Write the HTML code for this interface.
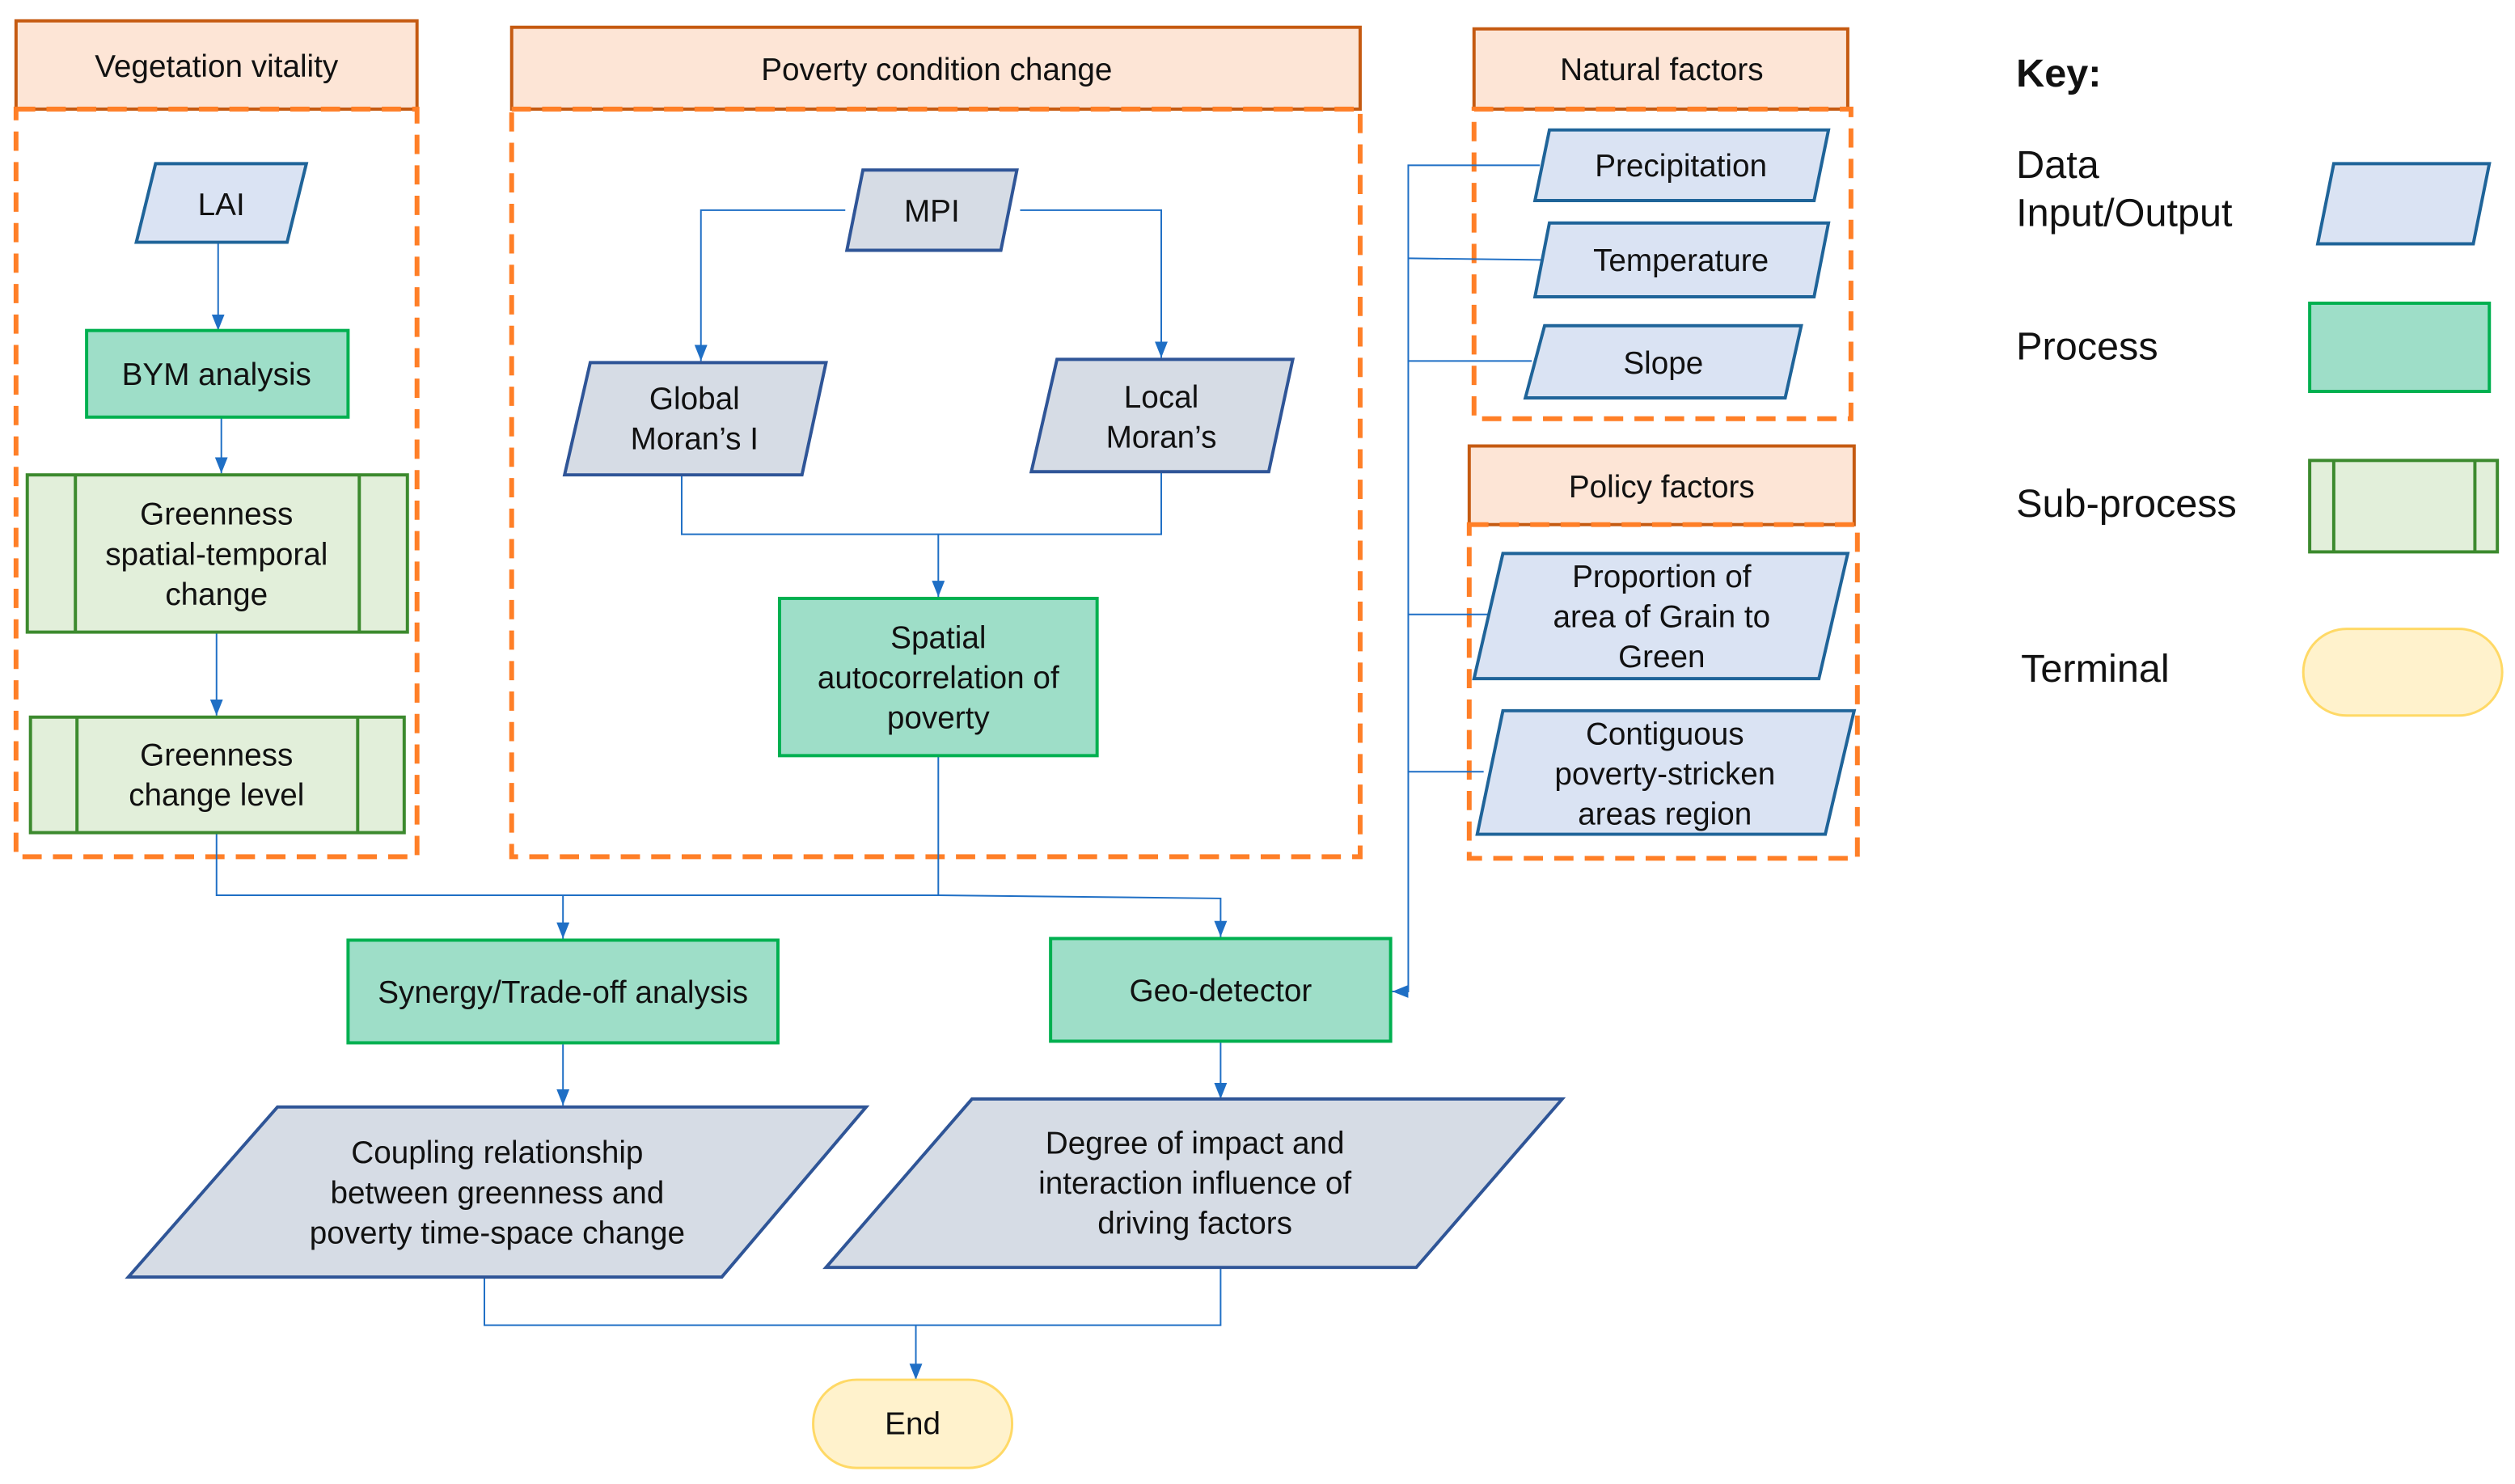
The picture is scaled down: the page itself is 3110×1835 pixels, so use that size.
<!DOCTYPE html>
<html><head><meta charset="utf-8"><style>
html,body{margin:0;padding:0;background:#fff}
svg{display:block}
text{font-family:"Liberation Sans",sans-serif;fill:#111;text-anchor:middle}
</style></head><body>
<svg width="3110" height="1835" viewBox="0 0 1568 925" preserveAspectRatio="none" xmlns="http://www.w3.org/2000/svg">
<defs><marker id="a" markerWidth="10" markerHeight="10" refX="10" refY="4" orient="auto" markerUnits="userSpaceOnUse"><path d="M0,0 L10,4 L0,8 Z" fill="#1f6fc5"/></marker></defs>
<g font-size="19.5">
<g fill="#fde5d6" stroke="#c55a11" stroke-width="2">
<rect x="10" y="13" width="250" height="55"/><rect x="319" y="17" width="529" height="51"/>
<rect x="919" y="18" width="233" height="50"/><rect x="916" y="278" width="240" height="49"/></g>
<g fill="none" stroke="#ff7f27" stroke-width="3" stroke-dasharray="12,7">
<rect x="10" y="68" width="250" height="466"/><rect x="319" y="68" width="529" height="466"/>
<rect x="919" y="68" width="235" height="193"/><rect x="916" y="327" width="242" height="208"/></g>
<text x="135" y="48">Vegetation vitality</text><text x="584" y="50">Poverty condition change</text>
<text x="1036" y="50">Natural factors</text><text x="1036" y="310">Policy factors</text>
<g stroke="#1f6fc5" stroke-width="1" fill="none">
<line x1="136" y1="151" x2="136" y2="206" marker-end="url(#a)"/>
<line x1="138" y1="260" x2="138" y2="295" marker-end="url(#a)"/>
<line x1="135" y1="394" x2="135" y2="446" marker-end="url(#a)"/>
<polyline points="527,131 437,131 437,225" marker-end="url(#a)"/>
<polyline points="636,131 724,131 724,223" marker-end="url(#a)"/>
<polyline points="425,296 425,333 724,333 724,294"/>
<line x1="585" y1="333" x2="585" y2="372" marker-end="url(#a)"/>
<polyline points="135,519 135,558 585,558 585,471"/>
<polyline points="351,558 351,585" marker-end="url(#a)"/>
<polyline points="585,558 761,560 761,584" marker-end="url(#a)"/>
<polyline points="960,103 878,103 878,618 868,618" marker-end="url(#a)"/>
<line x1="878" y1="161" x2="963" y2="162"/><line x1="878" y1="225" x2="955" y2="225"/>
<line x1="878" y1="383" x2="930" y2="383"/><line x1="878" y1="481" x2="925" y2="481"/>
<line x1="351" y1="651" x2="351" y2="689" marker-end="url(#a)"/>
<line x1="761" y1="650" x2="761" y2="685" marker-end="url(#a)"/>
<polyline points="302,796 302,826 761,826 761,790"/>
<line x1="571" y1="826" x2="571" y2="860" marker-end="url(#a)"/>
</g>
<g fill="#dae3f3" stroke="#1f6499" stroke-width="2">
<polygon points="97,102 191,102 179,151 85,151"/>
<polygon points="966,81 1140,81 1131,125 957,125"/>
<polygon points="966,139 1140,139 1131,185 957,185"/>
<polygon points="963,203 1123,203 1113,248 951,248"/>
<polygon points="937,345 1152,345 1134,423 919,423"/>
<polygon points="937,443 1156,443 1138,520 921,520"/>
<polygon points="1455,102 1552,102 1542,152 1445,152"/>
</g>
<g fill="#d6dce5" stroke="#2f5597" stroke-width="2">
<polygon points="538,106 634,106 624,156 528,156"/>
<polygon points="368,226 515,226 500,296 352,296"/>
<polygon points="659,224 806,224 791,294 643,294"/>
<polygon points="173,690 540,690 450,796 80,796"/>
<polygon points="606,685 974,685 883,790 515,790"/>
</g>
<g fill="#9edec8" stroke="#00b050" stroke-width="2">
<rect x="54" y="206" width="163" height="54"/><rect x="486" y="373" width="198" height="98"/>
<rect x="217" y="586" width="268" height="64"/><rect x="655" y="585" width="212" height="64"/>
<rect x="1440" y="189" width="112" height="55"/></g>
<g fill="#e2efda" stroke="#3c8a2e" stroke-width="2">
<rect x="17" y="296" width="237" height="98"/><line x1="47" y1="296" x2="47" y2="394"/><line x1="224" y1="296" x2="224" y2="394"/>
<rect x="19" y="447" width="233" height="72"/><line x1="48" y1="447" x2="48" y2="519"/><line x1="223" y1="447" x2="223" y2="519"/>
<rect x="1440" y="287" width="117" height="57"/><line x1="1455" y1="287" x2="1455" y2="344"/><line x1="1543" y1="287" x2="1543" y2="344"/>
</g>
<g fill="#fff2cc" stroke="#ffd966" stroke-width="1.5">
<rect x="507" y="860" width="124" height="55" rx="27"/><rect x="1436" y="392" width="124" height="54" rx="27"/></g>
<text x="138" y="134">LAI</text><text x="135" y="240">BYM analysis</text>
<text x="135" y="327">Greenness</text><text x="135" y="352">spatial-temporal</text><text x="135" y="377">change</text>
<text x="135" y="477">Greenness</text><text x="135" y="502">change level</text>
<text x="581" y="138">MPI</text>
<text x="433" y="255">Global</text><text x="433" y="280">Moran’s I</text>
<text x="724" y="254">Local</text><text x="724" y="279">Moran’s</text>
<text x="585" y="404">Spatial</text><text x="585" y="429">autocorrelation of</text><text x="585" y="454">poverty</text>
<text x="351" y="625">Synergy/Trade-off analysis</text><text x="761" y="624">Geo-detector</text>
<text x="310" y="725">Coupling relationship</text><text x="310" y="750">between greenness and</text><text x="310" y="775">poverty time-space change</text>
<text x="745" y="719">Degree of impact and</text><text x="745" y="744">interaction influence of</text><text x="745" y="769">driving factors</text>
<text x="569" y="894">End</text>
<text x="1048" y="110">Precipitation</text><text x="1048" y="169">Temperature</text><text x="1037" y="233">Slope</text>
<text x="1036" y="366">Proportion of</text><text x="1036" y="391">area of Grain to</text><text x="1036" y="416">Green</text>
<text x="1038" y="464">Contiguous</text><text x="1038" y="489">poverty-stricken</text><text x="1038" y="514">areas region</text>
</g>
<g font-size="24.5">
<text x="1257" y="54" font-weight="bold" style="text-anchor:start">Key:</text>
<text x="1257" y="111" style="text-anchor:start">Data</text><text x="1257" y="141" style="text-anchor:start">Input/Output</text>
<text x="1257" y="224" style="text-anchor:start">Process</text><text x="1257" y="322" style="text-anchor:start">Sub-process</text>
<text x="1260" y="425" style="text-anchor:start">Terminal</text>
</g>
</svg>
</body></html>
